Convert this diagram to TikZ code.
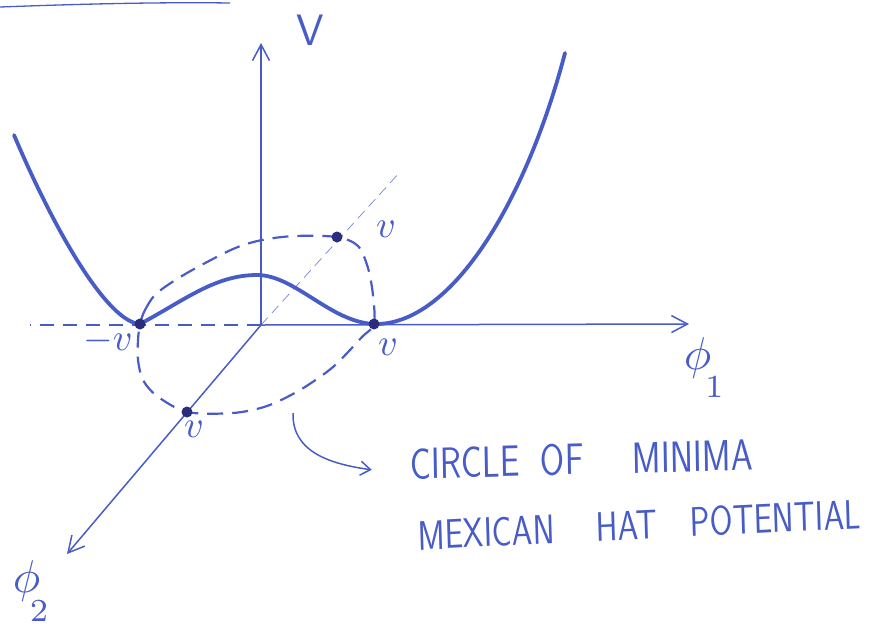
\documentclass[tikz,border=0pt]{standalone}
\usetikzlibrary{arrows.meta}
\definecolor{pen}{RGB}{72,92,200}
\definecolor{pendark}{RGB}{42,44,125}

\begin{document}
\begin{tikzpicture}[x=1pt,y=-1pt,
  axis/.style={pen,line width=1.5pt,-{Straight Barb[length=16pt,width=17pt,line width=1.5pt]}},
  guide/.style={pen,line width=1.3pt,dash pattern=on 14pt off 9pt},
  backguide/.style={pen!75,line width=.7pt,dash pattern=on 10pt off 6pt},
  potential/.style={pen,line width=3.8pt,line cap=round,line join=round},
  minima/.style={pen,line width=2.2pt,dash pattern=on 16pt off 9pt},
  pointer/.style={pen,line width=1.5pt,-{Straight Barb[length=10pt,width=14pt,line width=1.5pt]}},
  lab/.style={text=pen,inner sep=0pt},
  mlab/.style={lab,scale=3.8,transform shape},
  philab/.style={lab,scale=4.6,transform shape,anchor=base west},
  hand/.style={lab,anchor=base west,xscale=1,yscale=1.25,transform shape}]
\path[use as bounding box] (0,0) rectangle (893,630);

% stray stroke at the top
\draw[pen,line width=1.3pt] (0,7) .. controls (80,4) and (160,2) .. (230,3);

% axes
\coordinate (O) at (261,325);
\coordinate (Vtip) at (261,43);
\coordinate (P1tip) at (689,324);
\coordinate (P2tip) at (67,554);
\coordinate (P1neg) at (30,325);
\coordinate (P2back) at (400,172);
\draw[guide] (O) -- (P1neg);
\draw[backguide] (O) -- (P2back);
\draw[axis] (O) -- (Vtip);
\draw[axis] (O) -- (P1tip);
\draw[axis] (O) -- (P2tip);

% circle of minima
\draw[minima] plot[smooth cycle] coordinates {(140,324) (145,310) (157,293) (187,273)
  (233,249) (262,240) (295,236) (337,237) (358,246) (368,268) (373,295) (374,324)
  (362,337) (333,367) (300,390) (267,406) (233,413) (187,412) (157,396) (143,380)
  (138,360) (138,340)};

% minima points
\coordinate (mL) at (140,324);
\coordinate (mR) at (374,324);
\coordinate (mF) at (187,412);
\coordinate (mB) at (337,237);
\coordinate (top) at (257,275);

% potential
\draw[potential] (14,135) .. controls (56,234) and (108,322) .. (mL)
  .. controls (185,300) and (215,275) .. (top)
  .. controls (295,275) and (330,322) .. (mR)
  .. controls (450,326) and (525,205) .. (565,53);

\foreach \p in {mL,mR,mF,mB}
  \fill[pendark] (\p) circle[radius=5.5];

% labels
\node[lab,font=\sffamily\fontsize{44}{48}\selectfont] (Vlab) at (310,30) {V};
\node[philab] (phione) at (683,369) {$\phi_{\mkern-3mu\lower4.6pt\hbox{$\scriptstyle 1$}}$};
\node[philab] (phitwo) at (12,592) {$\phi_{\mkern-5mu\lower4.9pt\hbox{$\scriptstyle 2$}}$};
\node[mlab] (vL) at (108,341) {$-v$};
\node[mlab] (vR) at (388,347) {$v$};
\node[mlab] (vF) at (194,429) {$v$};
\node[mlab] (vB) at (386,229) {$v$};

% caption
\node[hand,rotate=1.2,font=\sffamily\fontsize{35}{38}\selectfont] (minlab) at (410,479)
  {CIRCLE\hspace{.6em}OF\hspace{1.4em}MINIMA};
\node[hand,rotate=2.2,font=\sffamily\fontsize{33}{36}\selectfont] (hatlab) at (418,550)
  {MEXICAN\hspace{1.25em}HAT\hspace{1em}POTENTIAL};
\coordinate (tail) at (293,413);
\draw[pointer] (tail) .. controls (292,452) and (330,464) .. ([xshift=-38pt,yshift=-6pt]minlab.west);
\end{tikzpicture}
\end{document}
